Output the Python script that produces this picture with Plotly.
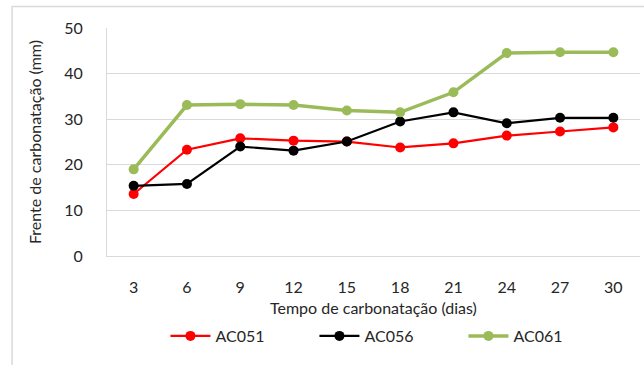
import plotly.graph_objects as go

# Carbonation depth (mm) measured over time (days)
dias = ["3", "6", "9", "12", "15", "18", "21", "24", "27", "30"]
ac051 = [13.6, 23.3, 25.8, 25.3, 25.1, 23.8, 24.7, 26.4, 27.3, 28.2]
ac056 = [15.4, 15.8, 24.0, 23.1, 25.1, 29.5, 31.5, 29.1, 30.3, 30.3]
ac061 = [19.0, 33.1, 33.3, 33.1, 31.9, 31.5, 35.9, 44.5, 44.7, 44.7]

series = [
    ("AC051", ac051, "#FF0000", 2.2),
    ("AC056", ac056, "#000000", 2.2),
    ("AC061", ac061, "#9BBB59", 3.5),
]

FONT = "Lato"
TXT = "#262626"
GRID = "#D9D9D9"

fig = go.Figure()
for name, vals, color, lw in series:
    fig.add_trace(go.Scatter(
        x=dias, y=vals, name=name, mode="lines+markers",
        line=dict(color=color, width=lw),
        marker=dict(color=color, size=10),
    ))

W, H = 644, 365
L, R, T, B = 106.5, 4, 28, 109
pw = W - L - R
ph = H - T - B

def px_x(px):
    return (px - L) / pw

def px_y(py):
    return (T + ph - py) / ph

fig.update_layout(
    width=W, height=H,
    margin=dict(l=L, r=R, t=T, b=B, pad=0),
    paper_bgcolor="white", plot_bgcolor="white",
    font=dict(family=FONT, size=16, color=TXT),
    showlegend=True,
    legend=dict(
        orientation="h", x=px_x(165), xanchor="left", y=px_y(336), yanchor="middle",
        entrywidth=94, entrywidthmode="pixels", itemwidth=40,
        font=dict(family=FONT, size=16, color=TXT),
        bgcolor="rgba(0,0,0,0)",
    ),
    xaxis=dict(
        type="category", range=[-0.5, len(dias) - 0.5],
        showgrid=False, showline=True, linecolor=GRID,
        linewidth=1, ticks="", ticklabelstandoff=17, automargin=False,
        tickfont=dict(family=FONT, size=16, color=TXT),
    ),
    yaxis=dict(
        range=[0, 50], dtick=10, showgrid=True, gridcolor=GRID, gridwidth=1,
        showline=True, linecolor=GRID, linewidth=1, zeroline=False,
        ticks="", ticklabelstandoff=20, automargin=False,
        tickfont=dict(family=FONT, size=16, color=TXT),
        title=dict(text="Frente de carbonatação (mm)", standoff=18,
                   font=dict(family=FONT, size=16, color=TXT)),
    ),
)

# x-axis title sits close under the tick labels
fig.add_annotation(
    text="Tempo de carbonatação (dias)", xref="paper", yref="paper",
    x=0.5, y=px_y(307), xanchor="center", yanchor="middle", showarrow=False,
    font=dict(family=FONT, size=16, color=TXT),
)

# Light chart-area frame (left and top edges visible)
fig.add_shape(
    type="rect", xref="paper", yref="paper",
    x0=px_x(11.5), x1=px_x(W + 20),
    y0=px_y(H + 20), y1=px_y(6.5),
    line=dict(color=GRID, width=1.5), fillcolor="rgba(0,0,0,0)", layer="below",
)

fig.write_html("out.html")
